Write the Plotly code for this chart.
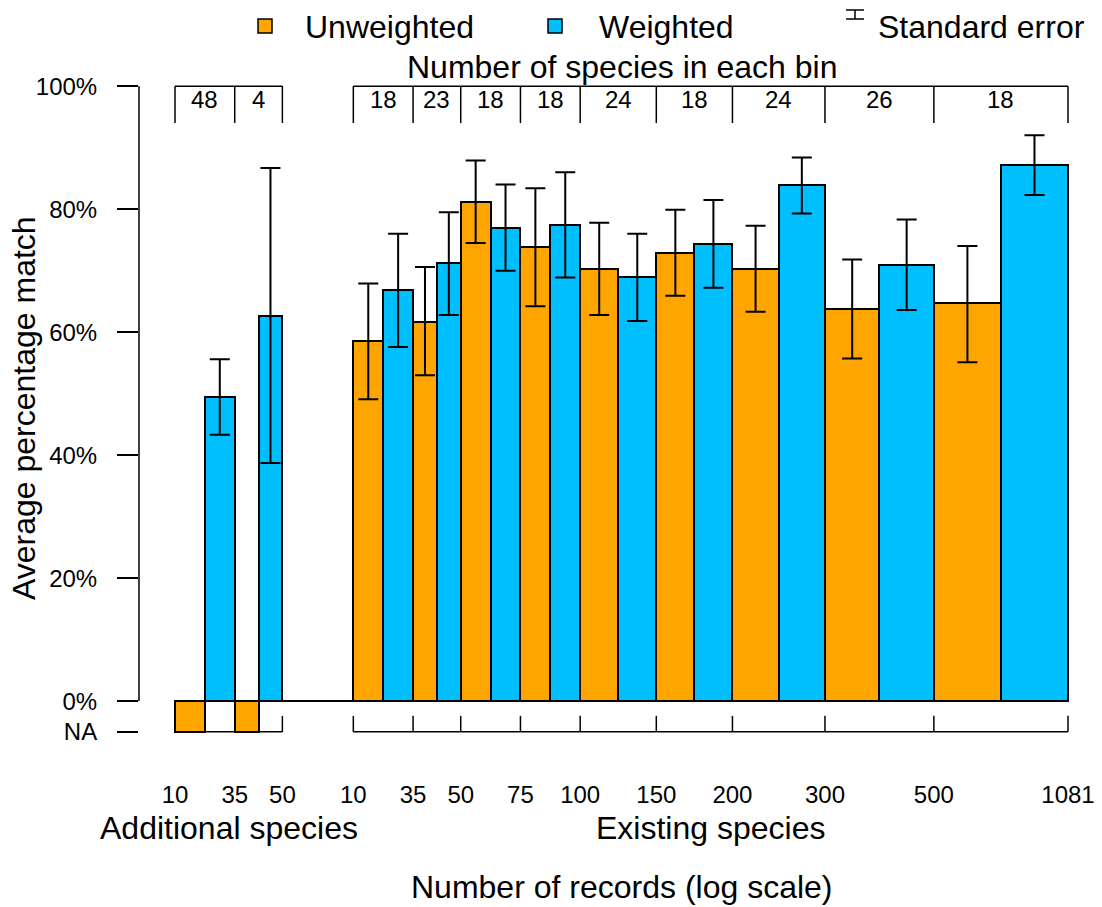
import math
import plotly.graph_objects as go

# ---------------- data ----------------
additional_record_breaks = [10, 35, 50]
existing_record_breaks = [10, 35, 50, 75, 100, 150, 200, 300, 500, 1081]
additional_species_counts = [48, 4]
existing_species_counts = [18, 23, 18, 18, 24, 18, 24, 26, 18]

# Additional species: unweighted values are NA
additional_weighted = [49.5, 62.7]
additional_weighted_se_upper = [55.6, 86.7]
additional_weighted_se_lower = [43.3, 38.7]

existing_unweighted = [58.5, 61.7, 81.2, 73.9, 70.3, 72.9, 70.3, 63.7, 64.7]
existing_unweighted_se_upper = [67.9, 70.6, 87.9, 83.4, 77.8, 79.9, 77.3, 71.8, 74.0]
existing_unweighted_se_lower = [49.1, 53.0, 74.5, 64.2, 62.8, 65.9, 63.3, 55.7, 55.1]

existing_weighted = [66.8, 71.2, 77.0, 77.4, 68.9, 74.3, 83.9, 70.9, 87.2]
existing_weighted_se_upper = [76.0, 79.5, 84.0, 86.0, 76.0, 81.5, 88.4, 78.3, 92.0]
existing_weighted_se_lower = [57.6, 62.8, 70.0, 68.9, 61.8, 67.2, 79.3, 63.6, 82.3]

y_tick_values = [-5, 0, 20, 40, 60, 80, 100]
y_tick_labels = ["NA", "0%", "20%", "40%", "60%", "80%", "100%"]
NA_LEVEL = -5

# ---------------- layout helpers ----------------
ORANGE = "#FFA500"
BLUE = "#00BFFF"
FONT = "Liberation Sans, Arial, sans-serif"
W, H = 1102, 907
ML, MR, MT, MB = 139, 22, 80, 169
PW, PH = W - ML - MR, H - MT - MB


def px_x(px):
    return (px - ML) / PW


def px_y(py):
    return (H - MB - py) / PH


def bin_widths(breaks):
    # bar width grows with the log of the bin's record range
    return [math.log((b - a) / 2.0) for a, b in zip(breaks[:-1], breaks[1:])]


def cumulative(start, widths):
    out = [start]
    for w in widths:
        out.append(out[-1] + w)
    return out


SECTION_GAP = 3.0
add_edges = cumulative(0.0, bin_widths(additional_record_breaks))
ex_edges = cumulative(add_edges[-1] + SECTION_GAP, bin_widths(existing_record_breaks))
x_min = add_edges[0] - 1.522
x_max = ex_edges[-1] + 0.507


def halves(edges):
    left_x, left_w, right_x, right_w = [], [], [], []
    for a, b in zip(edges[:-1], edges[1:]):
        m = (a + b) / 2
        left_x.append((a + m) / 2)
        left_w.append(m - a)
        right_x.append((m + b) / 2)
        right_w.append(b - m)
    return left_x, left_w, right_x, right_w


ax_l, ax_lw, ax_r, ax_rw = halves(add_edges)
ex_l, ex_lw, ex_r, ex_rw = halves(ex_edges)

line_style = dict(color="black", width=2)
err_style = dict(color="black", thickness=2, width=10)

fig = go.Figure()

# Unweighted NA bars for additional species
fig.add_trace(go.Bar(
    x=ax_l, width=ax_lw, y=[0 - NA_LEVEL] * len(ax_l), base=[NA_LEVEL] * len(ax_l),
    marker=dict(color=ORANGE, line=line_style), name="Unweighted", showlegend=False,
))
# Weighted additional species
fig.add_trace(go.Bar(
    x=ax_r, width=ax_rw, y=additional_weighted,
    marker=dict(color=BLUE, line=line_style), name="Weighted", showlegend=False,
    error_y=dict(type="data", symmetric=False,
                 array=[u - v for u, v in zip(additional_weighted_se_upper, additional_weighted)],
                 arrayminus=[v - l for v, l in zip(additional_weighted, additional_weighted_se_lower)],
                 **err_style),
))
# Unweighted existing species
fig.add_trace(go.Bar(
    x=ex_l, width=ex_lw, y=existing_unweighted,
    marker=dict(color=ORANGE, line=line_style), name="Unweighted", showlegend=False,
    error_y=dict(type="data", symmetric=False,
                 array=[u - v for u, v in zip(existing_unweighted_se_upper, existing_unweighted)],
                 arrayminus=[v - l for v, l in zip(existing_unweighted, existing_unweighted_se_lower)],
                 **err_style),
))
# Weighted existing species
fig.add_trace(go.Bar(
    x=ex_r, width=ex_rw, y=existing_weighted,
    marker=dict(color=BLUE, line=line_style), name="Weighted", showlegend=False,
    error_y=dict(type="data", symmetric=False,
                 array=[u - v for u, v in zip(existing_weighted_se_upper, existing_weighted)],
                 arrayminus=[v - l for v, l in zip(existing_weighted, existing_weighted_se_lower)],
                 **err_style),
))

shapes = []
axis_line = dict(color="black", width=1.5)
# y axis line (0% .. 100%)
shapes.append(dict(type="line", xref="paper", yref="y", x0=0, x1=0, y0=0, y1=100, line=axis_line))
# zero baseline
shapes.append(dict(type="line", xref="x", yref="y", x0=add_edges[0], x1=ex_edges[-1], y0=0, y1=0,
                   line=dict(color="black", width=2)))
for edges in (add_edges, ex_edges):
    # top bracket (number of species)
    shapes.append(dict(type="line", xref="x", yref="y", x0=edges[0], x1=edges[-1], y0=100, y1=100, line=axis_line))
    # bottom bracket (record bins)
    shapes.append(dict(type="line", xref="x", yref="y", x0=edges[0], x1=edges[-1], y0=NA_LEVEL, y1=NA_LEVEL, line=axis_line))
    for e in edges:
        shapes.append(dict(type="line", xref="x", yref="y", x0=e, x1=e, y0=100, y1=94, line=axis_line))
        shapes.append(dict(type="line", xref="x", yref="y", x0=e, x1=e, y0=NA_LEVEL, y1=NA_LEVEL + 2.6, line=axis_line))

# legend symbols
for x0, col in ((258, ORANGE), (548, BLUE)):
    shapes.append(dict(type="rect", xref="paper", yref="paper",
                       x0=px_x(x0), x1=px_x(x0 + 14), y0=px_y(33), y1=px_y(19),
                       fillcolor=col, line=dict(color="black", width=1.5)))
shapes.append(dict(type="line", xref="paper", yref="paper", x0=px_x(855), x1=px_x(855), y0=px_y(10), y1=px_y(19), line=axis_line))
shapes.append(dict(type="line", xref="paper", yref="paper", x0=px_x(846), x1=px_x(864), y0=px_y(10), y1=px_y(10), line=axis_line))
shapes.append(dict(type="line", xref="paper", yref="paper", x0=px_x(846), x1=px_x(864), y0=px_y(19), y1=px_y(19), line=axis_line))

annotations = []
big = dict(family=FONT, size=32, color="black")
tick_font = dict(family=FONT, size=24, color="black")

for edges, counts in ((add_edges, additional_species_counts), (ex_edges, existing_species_counts)):
    for a, b, c in zip(edges[:-1], edges[1:], counts):
        annotations.append(dict(x=(a + b) / 2, y=97.9, xref="x", yref="y", text=str(c),
                                showarrow=False, font=tick_font, xanchor="center", yanchor="middle"))

center_all = (add_edges[0] + ex_edges[-1]) / 2
annotations.append(dict(x=center_all, y=px_y(67), xref="x", yref="paper", text="Number of species in each bin",
                        showarrow=False, font=big, xanchor="center", yanchor="middle"))
annotations.append(dict(x=(add_edges[0] + add_edges[-1]) / 2, y=px_y(828), xref="x", yref="paper",
                        text="Additional species", showarrow=False, font=big, xanchor="center", yanchor="middle"))
annotations.append(dict(x=(ex_edges[0] + ex_edges[-1]) / 2, y=px_y(828), xref="x", yref="paper",
                        text="Existing species", showarrow=False, font=big, xanchor="center", yanchor="middle"))
annotations.append(dict(x=center_all, y=px_y(887), xref="x", yref="paper",
                        text="Number of records (log scale)", showarrow=False, font=big, xanchor="center", yanchor="middle"))
annotations.append(dict(x=px_x(24), y=px_y(408), xref="paper", yref="paper", text="Average percentage match",
                        textangle=-90, showarrow=False, font=big, xanchor="center", yanchor="middle"))
# legend labels
for px, txt in ((303, "Unweighted"), (597, "Weighted"), (876, "Standard error")):
    annotations.append(dict(x=px_x(px), y=px_y(27), xref="paper", yref="paper", text=txt,
                            showarrow=False, font=big, xanchor="left", yanchor="middle"))

x_tick_vals = add_edges + ex_edges
x_tick_text = [str(v) for v in additional_record_breaks + existing_record_breaks]

fig.update_layout(
    width=W, height=H,
    margin=dict(l=ML, r=MR, t=MT, b=MB, pad=0, autoexpand=False),
    paper_bgcolor="white", plot_bgcolor="white",
    barmode="overlay", bargap=0,
    showlegend=False,
    font=dict(family=FONT, color="black"),
    xaxis=dict(range=[x_min, x_max], showgrid=False, zeroline=False, showline=False,
               ticks="", tickvals=x_tick_vals, ticktext=x_tick_text, tickangle=0,
               tickfont=tick_font, ticklabelstandoff=40, automargin=False),
    yaxis=dict(range=[-6, 101], showgrid=False, zeroline=False, showline=False,
               ticks="outside", ticklen=21, tickwidth=1.5, tickcolor="black",
               tickvals=y_tick_values, ticktext=y_tick_labels, tickfont=tick_font,
               ticklabelstandoff=15, automargin=False),
    shapes=shapes,
    annotations=annotations,
)

fig.write_html("out.html", config={"displayModeBar": False},
               post_script="document.body.style.margin='0';document.body.style.overflow='hidden';")
